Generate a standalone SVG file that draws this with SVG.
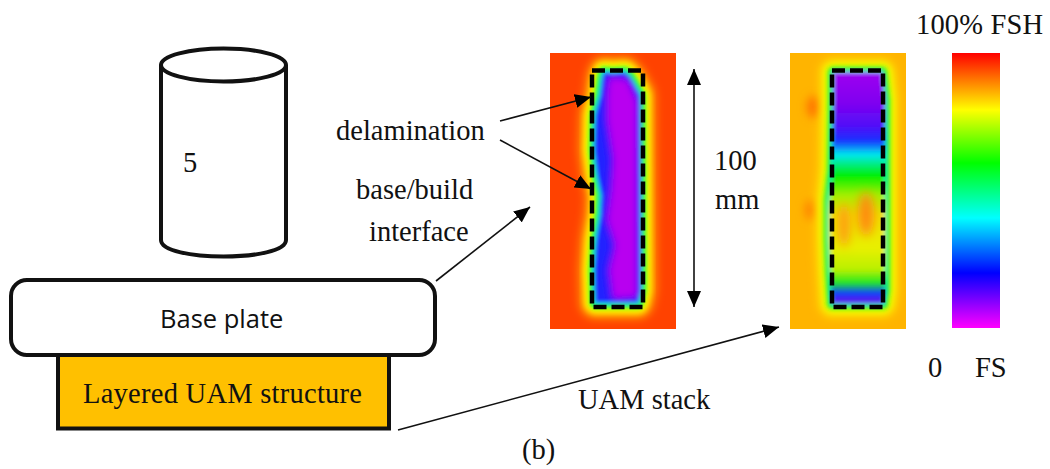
<svg xmlns="http://www.w3.org/2000/svg" width="1050" height="469" viewBox="0 0 1050 469">
<style>
.t{font-family:"Liberation Serif","Times New Roman",serif;font-size:28.500px;fill:#111}
.s{font-family:"Open Sans","Noto Sans",sans-serif;font-size:25.500px;fill:#111}
.o{fill:none;stroke:#111;stroke-width:4}
.c{fill:none;stroke:#111;stroke-width:1.6}
.d{fill:none;stroke:#000;stroke-width:4.500;stroke-dasharray:13 5}
</style>
<defs>
<marker id="a" markerUnits="userSpaceOnUse" markerWidth="18" markerHeight="14" refX="16" refY="7" orient="auto-start-reverse"><path d="M0 0L16 7L0 14Z" fill="#000"/></marker>
<linearGradient id="bar" x1="0" y1="0" x2="0" y2="1">
<stop offset="0" stop-color="#f00"/><stop offset=".207" stop-color="#ff0"/><stop offset=".4" stop-color="#0f0"/><stop offset=".6" stop-color="#0ff"/><stop offset=".8" stop-color="#00f"/><stop offset="1" stop-color="#f0f"/>
</linearGradient>
<linearGradient id="rv" gradientUnits="userSpaceOnUse" x1="0" y1="70" x2="0" y2="305">
<stop offset="0" stop-color="#a000f0"/><stop offset=".14" stop-color="#8000f0"/><stop offset=".24" stop-color="#5010f8"/><stop offset=".3" stop-color="#1830ff"/><stop offset=".36" stop-color="#00e8f0"/><stop offset=".45" stop-color="#00f000"/><stop offset=".53" stop-color="#a0f000"/><stop offset=".62" stop-color="#f0e000"/><stop offset=".76" stop-color="#e8f000"/><stop offset=".85" stop-color="#b8f000"/><stop offset=".905" stop-color="#20e820"/><stop offset=".95" stop-color="#1040ff"/><stop offset="1" stop-color="#8000e0"/>
</linearGradient>
<filter id="b3" x="-30%" y="-10%" width="160%" height="120%"><feGaussianBlur stdDeviation="3"/></filter>
<filter id="b2" x="-30%" y="-10%" width="160%" height="120%"><feGaussianBlur stdDeviation="2"/></filter>
<filter id="b5" x="-80%" y="-80%" width="260%" height="260%"><feGaussianBlur stdDeviation="5"/></filter>
<clipPath id="cl"><rect x="550" y="53" width="126" height="276"/></clipPath>
<clipPath id="cr"><rect x="790" y="53" width="116" height="276"/></clipPath>
<path id="vl" d="M604 72L612 73L625 72L630 77L640 95L641 290L638 303L595 303L594 270L596 240L600 215L601 195L597 175L594 150L595 115L600 95L602 78Z"/>
<path id="wr" d="M833 72L882 72L885 100L885 150L885 290L883 304L832 304L830 270L829 240L829 200L832 170L833 100Z"/>
</defs>

<g id="cylinder">
<path class="o" d="M161 65V240C161 262 286 262 286 240V65"/>
<ellipse class="o" cx="223.500" cy="65" rx="62.500" ry="16.500" fill="#fff"/>
<text class="t" x="183" y="172">5</text>
</g>

<g id="layered-structure">
<rect x="58" y="350" width="331" height="78.500" fill="#ffc000" stroke="#111" stroke-width="4"/>
<text class="t" x="83" y="403" textLength="279">Layered UAM structure</text>
</g>
<g id="base-plate">
<rect x="11" y="280" width="424" height="75" rx="16" fill="#fff" stroke="#111" stroke-width="4"/>
<text class="s" x="160" y="328">Base plate</text>
</g>

<g id="scan-left">
<rect x="550" y="53" width="126" height="276" fill="#ff4200"/>
<g clip-path="url(#cl)">
<g filter="url(#b5)">
<use href="#vl" fill="#ffa000" stroke="#ffa000" stroke-width="30" stroke-linejoin="round"/>
</g>
<g filter="url(#b3)">
<use href="#vl" fill="#ff0" stroke="#ff0" stroke-width="21" stroke-linejoin="round"/>
</g>
<g filter="url(#b2)">
<use href="#vl" fill="#20ff20" stroke="#20ff20" stroke-width="11" stroke-linejoin="round"/>
<use href="#vl" fill="#00e8f0" stroke="#00e8f0" stroke-width="3" stroke-linejoin="round"/>
<use href="#vl" fill="#2020ff"/>
<path d="M608 76L628 78L638 100L638 298L612 300L608 270L614 245L606 220L610 190L612 160L606 120L606 95Z" fill="#b800f0" filter="url(#b3)"/>
</g>
</g>
<rect class="d" x="592" y="70.500" width="51" height="236.500"/>
</g>

<g id="scan-right">
<rect x="790" y="53" width="116" height="276" fill="#ffb400"/>
<g clip-path="url(#cr)">
<ellipse cx="814" cy="107" rx="7" ry="11" fill="#ff7000" filter="url(#b5)"/>
<ellipse cx="811" cy="210" rx="6" ry="10" fill="#ff8000" filter="url(#b5)"/>
<g filter="url(#b5)">
<use href="#wr" fill="#ffe000" stroke="#ffe000" stroke-width="26" stroke-linejoin="round"/>
</g>
<g filter="url(#b3)">
<use href="#wr" fill="#e8ff00" stroke="#e8ff00" stroke-width="18" stroke-linejoin="round"/>
</g>
<g filter="url(#b2)">
<use href="#wr" fill="#20f020" stroke="#20f020" stroke-width="10" stroke-linejoin="round"/>
<use href="#wr" fill="#00e8f0" stroke="#00e8f0" stroke-width="3" stroke-linejoin="round"/>
<use href="#wr" fill="url(#rv)"/>
<ellipse cx="844" cy="225" rx="6" ry="22" fill="#ff9a10" filter="url(#b5)"/>
<ellipse cx="866" cy="214" rx="8" ry="22" fill="#ff8a10" filter="url(#b5)"/>
</g>
</g>
<rect class="d" x="832" y="70.500" width="51" height="236.500"/>
</g>

<g id="colorbar">
<rect x="952" y="53" width="48" height="275" fill="url(#bar)"/>
</g>

<g id="connectors">
<path class="c" d="M500 121L591 97" marker-end="url(#a)"/>
<path class="c" d="M500 140L591 189" marker-end="url(#a)"/>
<path class="c" d="M436 281L530 207" marker-end="url(#a)"/>
<path class="c" d="M398 430L779 327" marker-end="url(#a)"/>
<path class="c" d="M694 69V307" marker-start="url(#a)" marker-end="url(#a)"/>
</g>

<g id="labels">
<text class="t" x="336" y="140">delamination</text>
<text class="t" x="356" y="199">base/build</text>
<text class="t" x="369" y="241">interface</text>
<text class="t" x="714" y="170">100</text>
<text class="t" x="715" y="209">mm</text>
<text class="t" x="916" y="34" textLength="127">100% FSH</text>
<text class="t" x="928" y="377">0</text>
<text class="t" x="975" y="377">FS</text>
<text class="t" x="578" y="409">UAM stack</text>
<text class="t" x="522" y="459">(b)</text>
</g>
</svg>
